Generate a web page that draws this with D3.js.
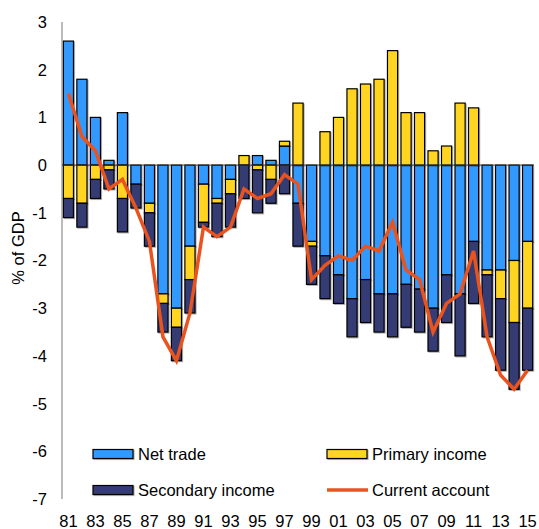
<!DOCTYPE html>
<html>
<head>
<meta charset="utf-8">
<script src="https://cdn.jsdelivr.net/npm/d3@7"></script>
<style>
    body { margin: 0; background: #fff; }
    text { font-family: "Liberation Sans", Arial, sans-serif; fill: #000; }
</style>
</head>
<body>
<div id="chart"></div>
<script>
const years = d3.range(1981, 2016);
const yearLabels = years.map(y => String(y % 100).padStart(2, '0'));

const netTrade = [2.6, 1.8, 1.0, 0.1, 1.1, -0.4, -0.8, -2.7, -3.0, -1.7, -0.4, -0.7, -0.3, 0, 0.2, 0.1, 0.4, -0.8, -1.6, -1.9,
    -2.3, -2.8, -2.4, -2.7, -2.7, -2.5, -2.6, -3.0, -2.3, -2.7, -1.6, -2.2, -2.2, -2.0, -1.6];
const primaryIncome = [-0.7, -0.8, -0.3, -0.1, -0.7, 0, -0.2, -0.2, -0.4, -0.7, -0.8, -0.1, -0.3, 0.2, -0.1, -0.3, 0.1, 1.3, -0.1, 0.7,
    1.0, 1.6, 1.7, 1.8, 2.4, 1.1, 1.1, 0.3, 0.4, 1.3, 1.2, -0.1, -0.6, -1.3, -1.4];
const secondaryIncome = [-0.4, -0.5, -0.4, -0.4, -0.7, -0.5, -0.7, -0.6, -0.7, -0.7, -0.1, -0.7, -0.7, -0.7, -0.9, -0.5, -0.6, -0.9, -0.8, -0.9,
    -0.6, -0.8, -0.9, -0.8, -0.9, -0.9, -0.9, -0.9, -1.0, -1.3, -1.3, -1.3, -1.5, -1.4, -1.3];
const currentAccount = [1.5, 0.6, 0.3, -0.5, -0.3, -0.9, -1.6, -3.6, -4.1, -3.1, -1.3, -1.5, -1.3, -0.5, -0.7, -0.6, -0.2, -0.4, -2.4, -2.1,
    -1.9, -2.0, -1.7, -1.8, -1.2, -2.2, -2.4, -3.5, -2.9, -2.7, -1.8, -3.6, -4.4, -4.7, -4.3];

const seriesNames = ['Net trade', 'Primary income', 'Secondary income'];
const yTicks = [3, 2, 1, 0, -1, -2, -3, -4, -5, -6, -7];

function drawChart() {
    const width = 539;
    const height = 529;
    const fontSize = '16.5px';

    const colors = {
        'Net trade': '#3399ff',
        'Primary income': '#ffd524',
        'Secondary income': '#353a73',
        'Current account': '#e9531e'
    };

    const svg = d3.select('#chart').append('svg')
        .attr('width', width)
        .attr('height', height);

    const filter = svg.append('defs').append('filter')
        .attr('id', 'shadow')
        .attr('x', '-20%').attr('y', '-20%')
        .attr('width', '140%').attr('height', '140%');
    filter.append('feDropShadow')
        .attr('dx', 1).attr('dy', 1)
        .attr('stdDeviation', 0.7)
        .attr('flood-color', '#000')
        .attr('flood-opacity', 0.3);

    const x = d3.scaleBand()
        .domain(yearLabels)
        .range([62, 534])
        .paddingInner(0.25)
        .paddingOuter(0.1);

    const y = d3.scaleLinear()
        .domain([-7, 3])
        .range([499, 22]);

    const table = years.map((yr, i) => ({
        label: yearLabels[i],
        'Net trade': netTrade[i],
        'Primary income': primaryIncome[i],
        'Secondary income': secondaryIncome[i]
    }));

    const stacked = d3.stack()
        .keys(seriesNames)
        .offset(d3.stackOffsetDiverging)(table);

    // y labels
    svg.append('g')
        .selectAll('text')
        .data(yTicks)
        .enter().append('text')
        .attr('x', 47)
        .attr('y', d => y(d))
        .attr('dy', '0.36em')
        .attr('text-anchor', 'end')
        .style('font-size', fontSize)
        .text(d => d);

    // x labels, every other year
    svg.append('g')
        .selectAll('text')
        .data(yearLabels.filter((d, i) => i % 2 === 0))
        .enter().append('text')
        .attr('x', d => x(d) + x.bandwidth() / 2)
        .attr('y', 527)
        .attr('text-anchor', 'middle')
        .style('font-size', fontSize)
        .text(d => d);

    svg.append('text')
        .attr('transform', 'translate(24,248) rotate(-90)')
        .attr('text-anchor', 'middle')
        .style('font-size', fontSize)
        .text('% of GDP');

    // bars
    svg.append('g')
        .selectAll('g')
        .data(stacked)
        .enter().append('g')
        .attr('fill', d => colors[d.key])
        .selectAll('rect')
        .data(d => d.filter(s => s[1] - s[0] !== 0))
        .enter().append('rect')
        .attr('x', d => x(d.data.label))
        .attr('width', x.bandwidth())
        .attr('y', d => y(Math.max(d[0], d[1])))
        .attr('height', d => Math.abs(y(d[0]) - y(d[1])))
        .attr('stroke', '#000')
        .attr('stroke-width', 1.2)
        .attr('filter', 'url(#shadow)');

    // axis lines
    svg.append('line')
        .attr('x1', 62).attr('x2', 62)
        .attr('y1', y(3)).attr('y2', y(-7))
        .attr('stroke', '#777')
        .attr('stroke-width', 1);

    svg.append('line')
        .attr('x1', 62).attr('x2', 534)
        .attr('y1', y(0)).attr('y2', y(0))
        .attr('stroke', '#333')
        .attr('stroke-width', 1);

    const line = d3.line()
        .x((d, i) => x(yearLabels[i]) + x.bandwidth() / 2)
        .y(d => y(d));

    svg.append('path')
        .datum(currentAccount)
        .attr('d', line)
        .attr('fill', 'none')
        .attr('stroke', colors['Current account'])
        .attr('stroke-width', 3.5)
        .attr('stroke-linejoin', 'miter');

    // legend
    const legendItems = [
        { name: 'Net trade', x: 93, y: 454, type: 'rect' },
        { name: 'Primary income', x: 327, y: 454, type: 'rect' },
        { name: 'Secondary income', x: 93, y: 490, type: 'rect' },
        { name: 'Current account', x: 327, y: 490, type: 'line' }
    ];

    const legend = svg.append('g')
        .selectAll('g')
        .data(legendItems)
        .enter().append('g')
        .attr('transform', d => `translate(${d.x},${d.y})`);

    legend.filter(d => d.type === 'rect')
        .append('rect')
        .attr('x', 0).attr('y', -4.5)
        .attr('width', 40).attr('height', 9)
        .attr('fill', d => colors[d.name])
        .attr('stroke', '#000')
        .attr('stroke-width', 1.2)
        .attr('filter', 'url(#shadow)');

    legend.filter(d => d.type === 'line')
        .append('line')
        .attr('x1', 0).attr('x2', 41)
        .attr('y1', 0).attr('y2', 0)
        .attr('stroke', d => colors[d.name])
        .attr('stroke-width', 3.5);

    legend.append('text')
        .attr('x', 45)
        .attr('y', 0)
        .attr('dy', '0.36em')
        .style('font-size', fontSize)
        .text(d => d.name);
}

drawChart();
</script>
</body>
</html>
